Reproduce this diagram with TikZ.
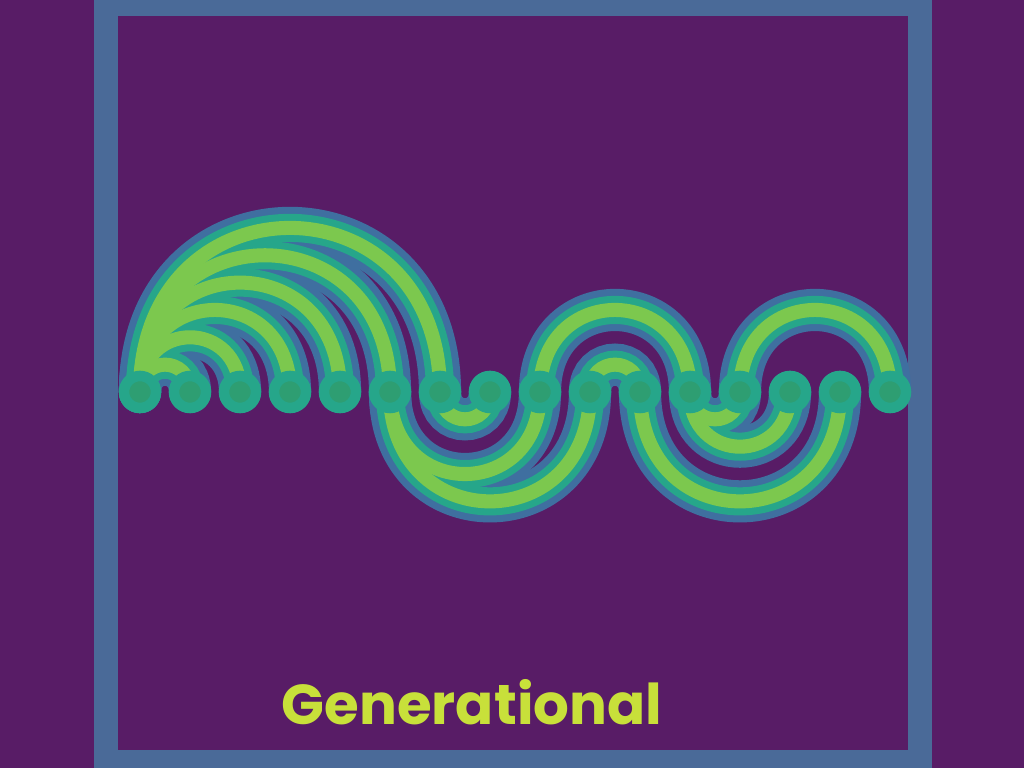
\documentclass[tikz,border=0pt]{standalone}
\usepackage{fontspec}
\newfontfamily\capfont{Poppins}
\usetikzlibrary{positioning}
\definecolor{bgpurple}{HTML}{581C66}
\definecolor{framebl}{HTML}{4A6A98}
\definecolor{glowbl}{HTML}{3F6FA0}
\definecolor{glowteal}{HTML}{26A68A}
\definecolor{arcgreen}{HTML}{7CC84E}
\definecolor{vertexgreen}{HTML}{2E9E72}
\definecolor{capyellow}{HTML}{C8E03A}
\tikzset{
  halo/.style={draw=glowbl,line width=12pt,line cap=round},
  rim/.style={draw=glowteal,line width=8pt,line cap=round},
  core/.style={draw=arcgreen,line width=4pt,line cap=round},
  vertex/.style={circle,fill=vertexgreen,draw=glowteal,line width=3pt,minimum size=0.32cm,inner sep=0pt},
}

\begin{document}
\begin{tikzpicture}
        \useasboundingbox (0,0) rectangle (10.24,7.68);
        \clip (0,0) rectangle (10.24,7.68);
        \fill[bgpurple] (0,0) rectangle (10.24,7.68);
        \draw[framebl,line width=7pt] (1.06,0.06) rectangle (9.20,7.64);
        % points along the line
        \foreach \i in {0,...,15} {
          \coordinate (n\i) at (1.4+0.5*\i,3.76);
        }
        % arcs above and below, drawn in three passes for the glow
        \foreach \pass in {halo,rim,core} {
          \foreach \a/\b in {0/1,0/2,0/3,0/4,0/5,0/6,8/11,9/10,12/15} {
            \draw[\pass] (n\a) to[out=90,in=90,looseness=1.87] (n\b);
          }
          \foreach \a/\b in {6/7,5/8,5/9,10/14,11/13,11/12} {
            \draw[\pass] (n\a) to[out=-90,in=-90,looseness=1.87] (n\b);
          }
        }
        \foreach \i in {0,...,15} {
          \node[vertex] (v\i) at (n\i) {};
        }
        \node[font=\capfont\bfseries\fontsize{16}{19}\selectfont,text=capyellow] (caption) at (4.72,0.66) {Generational};
      \end{tikzpicture}
\end{document}
